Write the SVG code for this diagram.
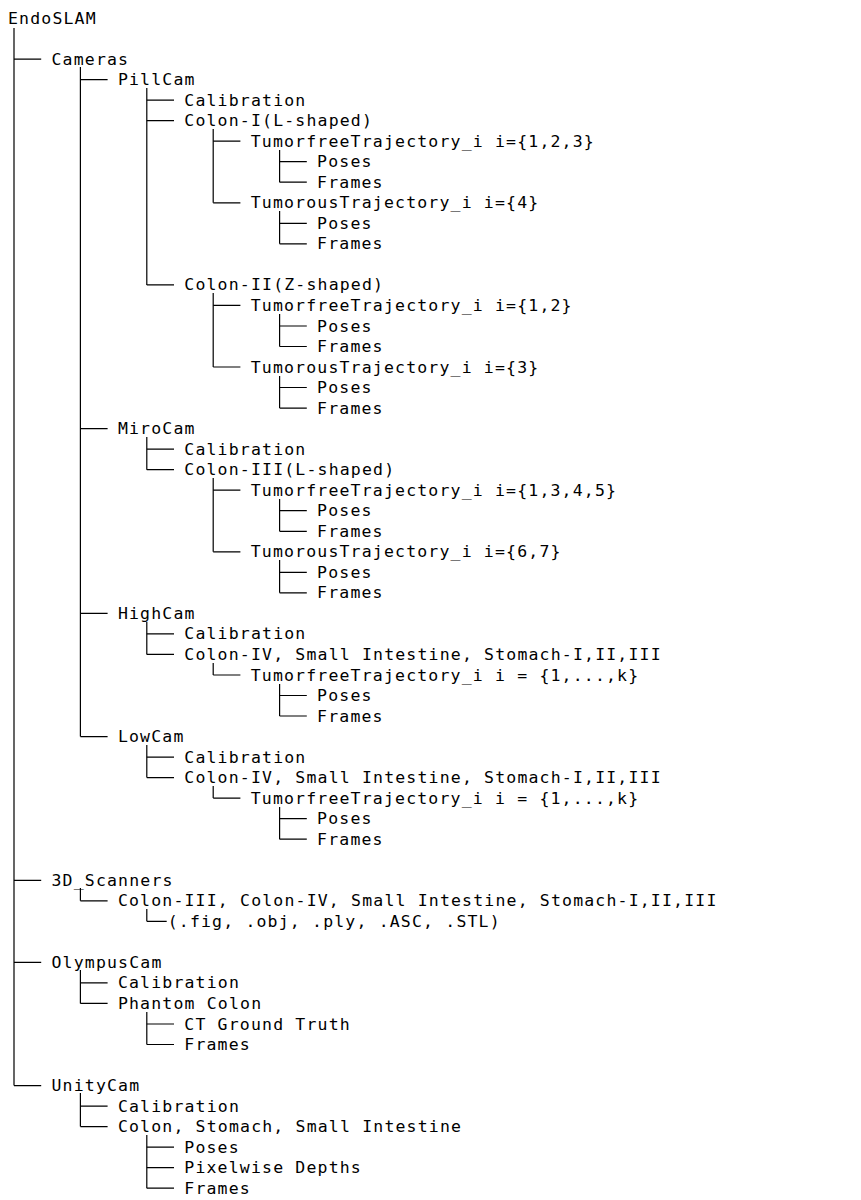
<svg xmlns="http://www.w3.org/2000/svg" width="861" height="1200" viewBox="0 0 861 1200">
<style>
text{font-family:"DejaVu Sans Mono","Liberation Mono",monospace;font-size:16.5px;letter-spacing:1.17px;fill:#000;white-space:pre}
.c path{stroke:#000;stroke-width:1.2;fill:none}
</style>
<rect width="861" height="1200" fill="#fff"/>
<g class="c" id="connectors">
<path d="M14 28V1085.6M80.4 67V736.6M80.4 888V900.8M80.4 970V1003.4M80.4 1093V1126.6M146.8 88V284.9M146.8 437V469.7M146.8 622V654.4M146.8 745V777.6M146.8 909V921.3M146.8 1012V1044.5M146.8 1135V1188.2M213.2 129V202.8M213.2 293V367M213.2 478V551.8M213.2 663V675M213.2 786V798.1M279.6 150V182.2M279.6 211V243.8M279.6 314V346.5M279.6 376V408.1M279.6 499V531.3M279.6 560V592.8M279.6 684V716M279.6 807V839.2"/>
<path d="M14 59.1H41.2M14 880.3H41.2M14 962.4H41.2M14 1085.6H41.2M80.4 79.6H107.6M80.4 428.6H107.6M80.4 613.4H107.6M80.4 736.6H107.6M80.4 900.8H107.6M80.4 982.9H107.6M80.4 1003.4H107.6M80.4 1106.1H107.6M80.4 1126.6H107.6M146.8 100.1H174M146.8 120.7H174M146.8 284.9H174M146.8 449.1H174M146.8 469.7H174M146.8 633.9H174M146.8 654.4H174M146.8 757.1H174M146.8 777.6H174M146.8 921.3H166.7M146.8 1024H174M146.8 1044.5H174M146.8 1147.2H174M146.8 1167.7H174M146.8 1188.2H174M213.2 141.2H240.4M213.2 202.8H240.4M213.2 305.4H240.4M213.2 367H240.4M213.2 490.2H240.4M213.2 551.8H240.4M213.2 675H240.4M213.2 798.1H240.4M279.6 161.7H306.8M279.6 182.2H306.8M279.6 223.3H306.8M279.6 243.8H306.8M279.6 326H306.8M279.6 346.5H306.8M279.6 387.5H306.8M279.6 408.1H306.8M279.6 510.7H306.8M279.6 531.3H306.8M279.6 572.3H306.8M279.6 592.8H306.8M279.6 695.5H306.8M279.6 716H306.8M279.6 818.7H306.8M279.6 839.2H306.8"/>
</g>
<g id="nodes">
<text x="8" y="23.5">EndoSLAM</text>
<text x="51.5" y="64.6">Cameras</text>
<text x="117.9" y="85.1">PillCam</text>
<text x="184.3" y="105.6">Calibration</text>
<text x="184.3" y="126.2">Colon-I(L-shaped)</text>
<text x="250.7" y="146.7">TumorfreeTrajectory_i i={1,2,3}</text>
<text x="317.1" y="167.2">Poses</text>
<text x="317.1" y="187.7">Frames</text>
<text x="250.7" y="208.3">TumorousTrajectory_i i={4}</text>
<text x="317.1" y="228.8">Poses</text>
<text x="317.1" y="249.3">Frames</text>
<text x="184.3" y="290.4">Colon-II(Z-shaped)</text>
<text x="250.7" y="310.9">TumorfreeTrajectory_i i={1,2}</text>
<text x="317.1" y="331.5">Poses</text>
<text x="317.1" y="352">Frames</text>
<text x="250.7" y="372.5">TumorousTrajectory_i i={3}</text>
<text x="317.1" y="393">Poses</text>
<text x="317.1" y="413.6">Frames</text>
<text x="117.9" y="434.1">MiroCam</text>
<text x="184.3" y="454.6">Calibration</text>
<text x="184.3" y="475.2">Colon-III(L-shaped)</text>
<text x="250.7" y="495.7">TumorfreeTrajectory_i i={1,3,4,5}</text>
<text x="317.1" y="516.2">Poses</text>
<text x="317.1" y="536.8">Frames</text>
<text x="250.7" y="557.3">TumorousTrajectory_i i={6,7}</text>
<text x="317.1" y="577.8">Poses</text>
<text x="317.1" y="598.3">Frames</text>
<text x="117.9" y="618.9">HighCam</text>
<text x="184.3" y="639.4">Calibration</text>
<text x="184.3" y="659.9">Colon-IV, Small Intestine, Stomach-I,II,III</text>
<text x="250.7" y="680.5">TumorfreeTrajectory_i i = {1,...,k}</text>
<text x="317.1" y="701">Poses</text>
<text x="317.1" y="721.5">Frames</text>
<text x="117.9" y="742.1">LowCam</text>
<text x="184.3" y="762.6">Calibration</text>
<text x="184.3" y="783.1">Colon-IV, Small Intestine, Stomach-I,II,III</text>
<text x="250.7" y="803.6">TumorfreeTrajectory_i i = {1,...,k}</text>
<text x="317.1" y="824.2">Poses</text>
<text x="317.1" y="844.7">Frames</text>
<text x="51.5" y="885.8">3D_Scanners</text>
<text x="117.9" y="906.3">Colon-III, Colon-IV, Small Intestine, Stomach-I,II,III</text>
<text x="167.7" y="926.8">(.fig, .obj, .ply, .ASC, .STL)</text>
<text x="51.5" y="967.9">OlympusCam</text>
<text x="117.9" y="988.4">Calibration</text>
<text x="117.9" y="1008.9">Phantom Colon</text>
<text x="184.3" y="1029.5">CT Ground Truth</text>
<text x="184.3" y="1050">Frames</text>
<text x="51.5" y="1091.1">UnityCam</text>
<text x="117.9" y="1111.6">Calibration</text>
<text x="117.9" y="1132.1">Colon, Stomach, Small Intestine</text>
<text x="184.3" y="1152.7">Poses</text>
<text x="184.3" y="1173.2">Pixelwise Depths</text>
<text x="184.3" y="1193.7">Frames</text>
</g>
</svg>
